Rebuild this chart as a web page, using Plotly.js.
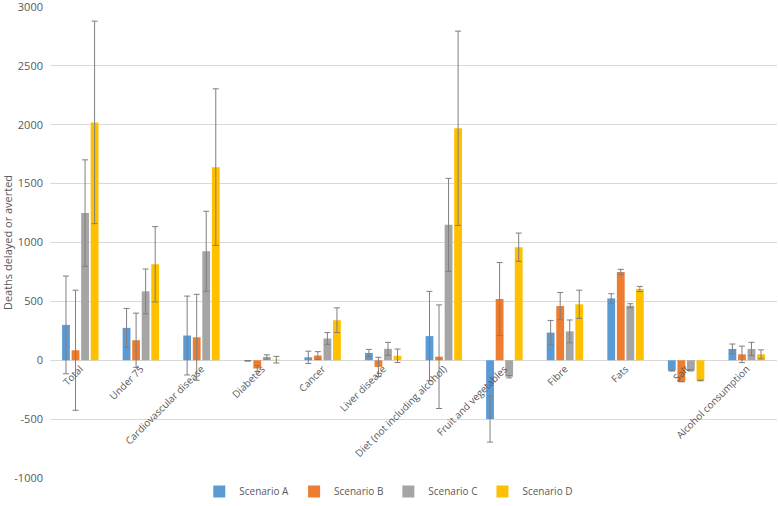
<!DOCTYPE html>
<html>
<head>
<meta charset="utf-8">
<script src="https://cdn.plot.ly/plotly-3.0.1.min.js"></script>
<style>html,body{margin:0;padding:0;background:#fff;}#chart{width:778px;height:506px;}</style>
</head>
<body>
<div id="chart"></div>
<script>
const categories = ["Total", "Under 75", "Cardiovascular disease", "Diabetes", "Cancer", "Liver disease", "Diet (not including alcohol)", "Fruit and vegetables", "Fibre", "Fats", "Salt", "Alcohol consumption"];
const seriesNames = ["Scenario A", "Scenario B", "Scenario C", "Scenario D"];
const scenarioA = [300, 275, 210, -5, 25, 62, 205, -500, 235, 525, -88, 96];
const scenarioB = [85, 170, 195, -70, 40, -57, 30, 520, 460, 750, -182, 50];
const scenarioC = [1250, 585, 925, 28, 185, 97, 1150, -140, 245, 463, -86, 96];
const scenarioD = [2020, 815, 1640, 5, 340, 38, 1970, 960, 475, 605, -172, 50];
const errA = [415, 165, 335, 3, 52, 30, 380, 195, 103, 40, 4, 42];
const errB = [510, 230, 365, 25, 33, 82, 440, 310, 115, 22, 0, 70];
const errC = [452, 190, 340, 18, 50, 55, 395, 10, 97, 17, 5, 56];
const errD = [860, 320, 665, 28, 105, 57, 825, 120, 120, 22, 3, 38];
const colors = ["#5B9BD5", "#ED7D31", "#A5A5A5", "#FFC000"];
const yTicks = [-1000, -500, 0, 500, 1000, 1500, 2000, 2500, 3000];

const values = [scenarioA, scenarioB, scenarioC, scenarioD];
const errs = [errA, errB, errC, errD];
const traces = values.map((v, i) => ({
  type: "bar",
  name: seriesNames[i],
  x: categories,
  y: v,
  marker: {color: colors[i]},
  error_y: {type: "data", array: errs[i], visible: true, color: "#7F7F7F", thickness: 1, width: 3}
}));

const H = 506, T = 7, plotBottom = 478;
const paperH = H - T;
const domLow = (H - plotBottom) / paperH;
const yMin = -1000, yMax = 3000;
const zeroPos = domLow + (0 - yMin) / (yMax - yMin) * (1 - domLow);

const font = {family: "Open Sans, Liberation Sans, sans-serif", size: 10, color: "#595959"};
const layout = {
  width: 778, height: H,
  margin: {l: 50, r: 1, t: T, b: 0},
  paper_bgcolor: "#fff", plot_bgcolor: "#fff",
  font: font,
  barmode: "group",
  bargap: 0.37,
  bargroupgap: 0.18,
  showlegend: true,
  legend: {orientation: "h", x: 0.466, xanchor: "center", y: 0, yanchor: "bottom", font: font,
           itemwidth: 30, traceorder: "normal", bgcolor: "rgba(0,0,0,0)"},
  xaxis: {
    type: "category",
    anchor: "free", position: zeroPos,
    tickangle: -45,
    showgrid: false, showline: false, ticks: "",
    tickfont: font, automargin: false
  },
  yaxis: {
    domain: [domLow, 1],
    range: [yMin, yMax],
    tickvals: yTicks,
    ticktext: yTicks.map(String),
    ticklabeloverflow: "allow",
    ticklabelstandoff: 6,
    showgrid: true, gridcolor: "#D9D9D9", gridwidth: 1,
    zeroline: true, zerolinecolor: "#D9D9D9", zerolinewidth: 1,
    showline: false, ticks: "",
    tickfont: Object.assign({}, font, {size: 11}), automargin: false,
    title: {text: "Deaths delayed or averted", font: Object.assign({}, font, {size: 11}), standoff: 5}
  }
};
Plotly.newPlot("chart", traces, layout, {displayModeBar: false, staticPlot: true});
</script>
</body>
</html>
